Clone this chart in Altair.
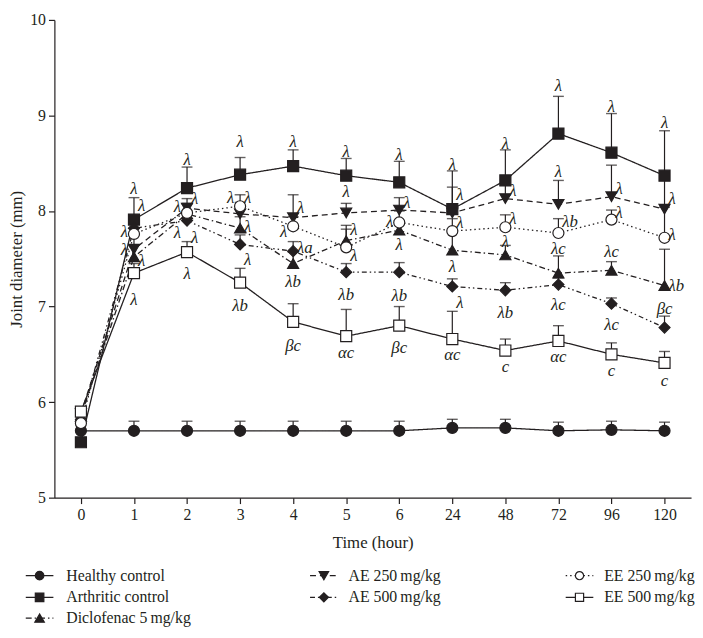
import altair as alt
import pandas as pd

# ---------------- data ----------------
times = ["0", "1", "2", "3", "4", "5", "6", "24", "48", "72", "96", "120"]
series = ["Healthy control", "Arthritic control", "Diclofenac 5\u2009mg/kg",
          "AE 250\u2009mg/kg", "AE 500\u2009mg/kg", "EE 250\u2009mg/kg", "EE 500\u2009mg/kg"]

healthy_mean = [5.70, 5.70, 5.70, 5.70, 5.70, 5.70, 5.70, 5.73, 5.73, 5.70, 5.71, 5.70]
healthy_err = [0.00, 0.10, 0.10, 0.10, 0.10, 0.10, 0.10, 0.09, 0.09, 0.09, 0.09, 0.09]
arthritic_mean = [5.58, 7.91, 8.24, 8.38, 8.47, 8.37, 8.30, 8.02, 8.32, 8.81, 8.61, 8.37]
arthritic_err = [0.00, 0.23, 0.22, 0.18, 0.17, 0.18, 0.22, 0.40, 0.32, 0.39, 0.41, 0.47]
diclo_mean = [5.85, 7.52, 7.97, 7.82, 7.45, 7.69, 7.80, 7.59, 7.54, 7.35, 7.38, 7.22]
diclo_err = [0.00, 0.12, 0.10, 0.12, 0.12, 0.12, 0.10, 0.18, 0.10, 0.18, 0.09, 0.38]
ae250_mean = [5.88, 7.60, 8.03, 7.97, 7.93, 7.98, 8.01, 7.98, 8.13, 8.07, 8.15, 8.02]
ae250_err = [0.00, 0.15, 0.10, 0.12, 0.24, 0.10, 0.13, 0.27, 0.20, 0.25, 0.33, 0.35]
ae500_mean = [5.82, 7.82, 7.90, 7.65, 7.58, 7.36, 7.36, 7.21, 7.17, 7.23, 7.03, 6.78]
ae500_err = [0.00, 0.10, 0.10, 0.10, 0.10, 0.09, 0.10, 0.08, 0.08, 0.07, 0.06, 0.12]
ee250_mean = [5.78, 7.76, 7.98, 8.05, 7.84, 7.62, 7.88, 7.79, 7.83, 7.77, 7.91, 7.72]
ee250_err = [0.00, 0.10, 0.10, 0.12, 0.10, 0.23, 0.12, 0.13, 0.13, 0.15, 0.10, 0.32]
ee500_mean = [5.90, 7.35, 7.57, 7.25, 6.84, 6.69, 6.80, 6.66, 6.54, 6.64, 6.50, 6.41]
ee500_err = [0.00, 0.10, 0.11, 0.15, 0.19, 0.28, 0.20, 0.29, 0.12, 0.16, 0.12, 0.12]

means = [healthy_mean, arthritic_mean, diclo_mean, ae250_mean, ae500_mean, ee250_mean, ee500_mean]
errs = [healthy_err, arthritic_err, diclo_err, ae250_err, ae500_err, ee250_err, ee500_err]

# significance annotations: time, value, text, side (c = centred, l = left, r = right)
ann_time = ["1"] * 6 + ["2"] * 6 + ["3"] * 6 + ["4"] * 6 + ["5"] * 6 + ["6"] * 6 + \
           ["24"] * 6 + ["48"] * 6 + ["72"] * 6 + ["96"] * 6 + ["120"] * 6
ann_val = [8.23, 8.05, 7.78, 7.59, 7.48, 7.07,
           8.53, 8.13, 8.04, 7.77, 7.72, 7.34,
           8.72, 8.14, 8.14, 7.83, 7.49, 7.01,
           8.72, 8.03, 7.78, 7.61, 7.26, 6.59,
           8.62, 8.20, 7.80, 7.53, 7.12, 6.51,
           8.59, 8.08, 7.88, 7.64, 7.11, 6.57,
           8.48, 8.17, 7.87, 7.41, 7.04, 6.49,
           8.70, 8.21, 7.92, 7.68, 6.93, 6.37,
           9.31, 8.41, 7.88, 7.60, 7.02, 6.47,
           9.09, 8.23, 7.98, 7.57, 6.81, 6.33,
           8.92, 8.13, 7.75, 7.21, 6.97, 6.22]
ann_text = ["λ", "λ", "λ", "λ", "λ", "λ",
            "λ", "λ", "λ", "λ", "λ", "λ",
            "λ", "λ", "λ", "λ", "λ", "λb",
            "λ", "λ", "λ", "λa", "λb", "βc",
            "λ", "λ", "λ", "λ", "λb", "αc",
            "λ", "λ", "λ", "λ", "λb", "βc",
            "λ", "λ", "λ", "λ", "λ", "αc",
            "λ", "λ", "λ", "λ", "λb", "c",
            "λ", "λ", "λb", "λc", "λc", "αc",
            "λ", "λ", "λ", "λc", "λc", "c",
            "λ", "λ", "λ", "λb", "βc", "c"]
ann_side = ["c", "r", "l", "l", "r", "c",
            "c", "r", "l", "l", "r", "c",
            "c", "l", "r", "r", "r", "c",
            "c", "r", "l", "r", "c", "c",
            "c", "c", "r", "r", "c", "c",
            "c", "r", "l", "c", "c", "c",
            "c", "r", "r", "c", "r", "c",
            "c", "r", "r", "c", "c", "c",
            "c", "c", "r", "c", "c", "c",
            "c", "r", "r", "c", "c", "c",
            "c", "r", "r", "r", "c", "c"]

# ---------------- styles ----------------
INK = "#231f20"
FONT = "Liberation Serif"
shapes = ["circle", "square", "triangle-up", "triangle-down", "diamond", "circle", "square"]
fills = [INK, INK, INK, INK, INK, "white", "white"]
sizes = [125, 125, 155, 155, 145, 115, 115]
dashes = [[1, 0], [1, 0], [6, 3, 1.5, 3], [6, 4], [5, 3, 1.5, 3, 1.5, 3], [1.5, 3], [1, 0]]

W, H = 645, 484

rows = []
for s, m, e in zip(series, means, errs):
    for t, v, d in zip(times, m, e):
        rows.append({"series": s, "time": t, "mean": v, "err": d, "top": v + d})
df = pd.DataFrame(rows)
ann = pd.DataFrame({"time": ann_time, "val": ann_val, "txt": ann_text, "side": ann_side})

xscale = alt.Scale(type="point", padding=0.5)
xaxis = alt.Axis(title="Time (hour)", labelAngle=0, titlePadding=12)
yscale = alt.Scale(domain=[5, 10], nice=False, zero=False)
yaxis = alt.Axis(title="Joint diameter (mm)", values=[5, 6, 7, 8, 9, 10], titlePadding=4)


def X():
    return alt.X("time:O", sort=times, scale=xscale, axis=xaxis)


def Y(field):
    return alt.Y(field, scale=yscale, axis=yaxis)


base = alt.Chart(df)

err_rule = base.transform_filter("datum.err > 0").mark_rule(color=INK, strokeWidth=1.2).encode(
    x=X(), y=Y("mean:Q"), y2="top:Q")
err_cap = base.transform_filter("datum.err > 0").mark_tick(color=INK, size=11, thickness=1.4).encode(
    x=X(), y=Y("top:Q"))

lines = base.mark_line(color=INK, strokeWidth=1.3).encode(
    x=X(), y=Y("mean:Q"), detail="series:N",
    strokeDash=alt.StrokeDash("series:N", scale=alt.Scale(domain=series, range=dashes), legend=None))

points = base.mark_point(filled=True, stroke=INK, strokeWidth=1.2, opacity=1).encode(
    x=X(), y=Y("mean:Q"),
    shape=alt.Shape("series:N", scale=alt.Scale(domain=series, range=shapes), legend=None),
    fill=alt.Fill("series:N", scale=alt.Scale(domain=series, range=fills), legend=None),
    size=alt.Size("series:N", scale=alt.Scale(domain=series, range=sizes), legend=None))

abase = alt.Chart(ann)
txt_kw = dict(font=FONT, fontSize=17, fontStyle="italic", color=INK, baseline="middle")
ann_c = abase.transform_filter("datum.side == 'c'").mark_text(align="center", **txt_kw).encode(
    x=X(), y=Y("val:Q"), text="txt:N")
ann_r = abase.transform_filter("datum.side == 'r'").mark_text(align="left", dx=4, **txt_kw).encode(
    x=X(), y=Y("val:Q"), text="txt:N")
ann_l = abase.transform_filter("datum.side == 'l'").mark_text(align="right", dx=-6, **txt_kw).encode(
    x=X(), y=Y("val:Q"), text="txt:N")

# ---------------- legend (drawn below the plot) ----------------
legend_col = [0, 0, 0, 1, 1, 2, 2]
legend_row = [0, 1, 2, 0, 1, 0, 1]
col_marker_x = [-15, 273, 532]
col_text_x = [12, 298, 557]
row_y = [H + 79, H + 101, H + 122]

legend_layers = []
for i, name in enumerate(series):
    ldf = pd.DataFrame({"label": [name]})
    cx = col_marker_x[legend_col[i]]
    ty = row_y[legend_row[i]]
    lc = alt.Chart(ldf)
    legend_layers.append(lc.mark_rule(color=INK, strokeWidth=1.3, strokeDash=dashes[i]).encode(
        x=alt.value(cx - 14), x2=alt.value(cx + 14), y=alt.value(ty)))
    legend_layers.append(lc.mark_point(shape=shapes[i], filled=True, fill=fills[i], stroke=INK,
                                       strokeWidth=1.2, opacity=1, size=sizes[i] * 0.6).encode(
        x=alt.value(cx), y=alt.value(ty)))
    legend_layers.append(lc.mark_text(align="left", baseline="middle", font=FONT, fontSize=16,
                                      color=INK).encode(
        x=alt.value(col_text_x[legend_col[i]]), y=alt.value(ty), text="label:N"))

chart = alt.layer(err_rule, err_cap, lines, points, ann_c, ann_r, ann_l, *legend_layers).properties(
    width=W, height=H, padding={"left": 0, "top": 0, "right": 0, "bottom": 0}
).configure_view(stroke=None).configure_axis(
    grid=False, labelFont=FONT, titleFont=FONT, labelFontSize=16, titleFontSize=17,
    titleFontWeight="normal", labelColor=INK, titleColor=INK, domainColor=INK, tickColor=INK,
    domainWidth=1.2, tickWidth=1.2, tickSize=6, labelPadding=3
)

chart.save("out.html", embed_options={"renderer": "svg", "actions": False})
